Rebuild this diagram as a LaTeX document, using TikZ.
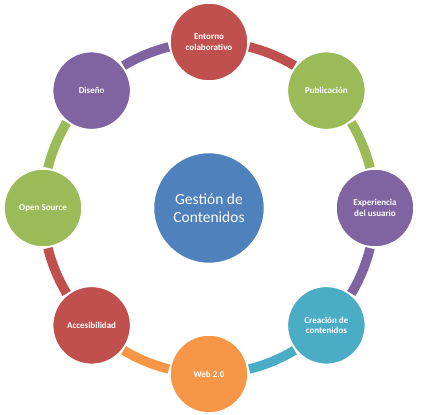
\documentclass[tikz,border=0pt]{standalone}
\usepackage{fontspec}
\setmainfont{Carlito}
\usetikzlibrary{calc}
\definecolor{cred}{HTML}{C0504D}
\definecolor{cgreen}{HTML}{9BBB59}
\definecolor{cpurple}{HTML}{8064A2}
\definecolor{cteal}{HTML}{4BACC6}
\definecolor{corange}{HTML}{F79646}
\definecolor{cblue}{HTML}{4F81BD}
\tikzset{
  outer/.style={circle, draw=white, line width=1.5pt, minimum size=78pt, inner sep=0pt,
    text=white, font=\fontsize{9}{10.5}\selectfont\bfseries, align=center},
  ringarc/.style={line width=9.5pt}
}
\begin{document}
\begin{tikzpicture}[x=1pt,y=1pt]
\useasboundingbox (0,0) rectangle (424,415);
\coordinate (ctr) at (209,207);
\def\R{166}
% arcs
\foreach \a/\c in {90/cred,45/cgreen,0/cpurple,-45/cteal,-90/corange,-135/cred,180/cgreen,135/cpurple}{
  \draw[ringarc, \c] ($(ctr)+({\a-14}:\R)$) arc[start angle={\a-14}, end angle={\a-31}, radius=\R];
}
\node[circle, fill=cblue, draw=white, line width=1.5pt, minimum size=111pt, inner sep=0pt,
  text=white, font=\fontsize{15.5}{18}\selectfont, align=center] (center) at (ctr) {Gestión de\\Contenidos};
\node[outer, fill=cred] (entorno) at ($(ctr)+(90:\R)$) {Entorno\\colaborativo};
\node[outer, fill=cgreen] (pub) at ($(ctr)+(45:\R)$) {Publicación};
\node[outer, fill=cpurple] (exp) at ($(ctr)+(0:\R)$) {Experiencia\\del usuario};
\node[outer, fill=cteal] (crea) at ($(ctr)+(-45:\R)$) {Creación de\\contenidos};
\node[outer, fill=corange] (web) at ($(ctr)+(-90:\R)$) {Web 2.0};
\node[outer, fill=cred] (acc) at ($(ctr)+(-135:\R)$) {Accesibilidad};
\node[outer, fill=cgreen] (open) at ($(ctr)+(180:\R)$) {Open Source};
\node[outer, fill=cpurple] (dis) at ($(ctr)+(135:\R)$) {Diseño};
\end{tikzpicture}
\end{document}
